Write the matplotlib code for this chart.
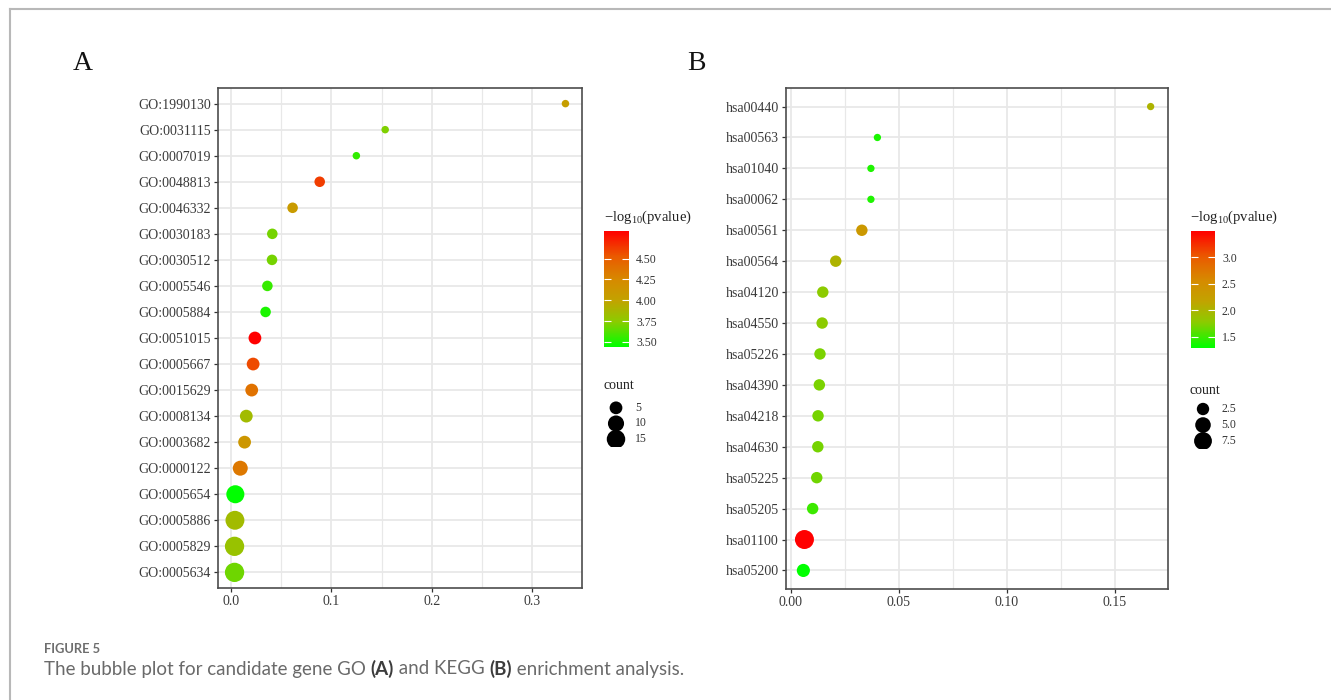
import numpy as np
import matplotlib
matplotlib.use("Agg")
import matplotlib.pyplot as plt
from matplotlib.colors import LinearSegmentedColormap, Normalize
from matplotlib.cm import ScalarMappable
from matplotlib.ticker import MultipleLocator
from matplotlib.lines import Line2D

# ---- data (top row first) ----
go_terms = ['GO:1990130', 'GO:0031115', 'GO:0007019', 'GO:0048813', 'GO:0046332',
            'GO:0030183', 'GO:0030512', 'GO:0005546', 'GO:0005884', 'GO:0051015',
            'GO:0005667', 'GO:0015629', 'GO:0008134', 'GO:0003682', 'GO:0000122',
            'GO:0005654', 'GO:0005886', 'GO:0005829', 'GO:0005634']
go_ratio = [0.333, 0.1535, 0.1248, 0.0883, 0.0613, 0.0411, 0.0408, 0.0362, 0.0344, 0.0238,
            0.0220, 0.0206, 0.0152, 0.0135, 0.0092, 0.0043, 0.0039, 0.0035, 0.0035]
go_count = [2, 2, 2, 3, 3, 3, 3, 3, 3, 5, 5, 5, 5, 5, 8, 14, 16, 17, 17]
go_logp = [4.05, 3.72, 3.55, 4.62, 4.08, 3.70, 3.70, 3.56, 3.50, 4.83,
           4.58, 4.38, 3.85, 4.12, 4.35, 3.44, 3.85, 3.80, 3.68]

kegg_terms = ['hsa00440', 'hsa00563', 'hsa01040', 'hsa00062', 'hsa00561', 'hsa00564',
              'hsa04120', 'hsa04550', 'hsa05226', 'hsa04390', 'hsa04218', 'hsa04630',
              'hsa05225', 'hsa05205', 'hsa01100', 'hsa05200']
kegg_ratio = [0.1667, 0.0401, 0.0371, 0.0371, 0.0329, 0.0208, 0.0148, 0.0145,
              0.0135, 0.0132, 0.0126, 0.0125, 0.0120, 0.0101, 0.0063, 0.0058]
kegg_count = [1, 1, 1, 1, 2, 2, 2, 2, 2, 2, 2, 2, 2, 2, 9, 3]
kegg_logp = [2.02, 1.38, 1.40, 1.40, 2.35, 2.02, 1.78, 1.78,
             1.72, 1.72, 1.70, 1.70, 1.68, 1.50, 3.50, 1.29]

go_cticks = [3.50, 3.75, 4.00, 4.25, 4.50]
go_clabels = ['3.50', '3.75', '4.00', '4.25', '4.50']
kegg_cticks = [1.5, 2.0, 2.5, 3.0]
kegg_clabels = ['1.5', '2.0', '2.5', '3.0']
go_size_legend = [5, 10, 15]
go_size_labels = ['5', '10', '15']
kegg_size_legend = [2.5, 5.0, 7.5]
kegg_size_labels = ['2.5', '5.0', '7.5']

W, H = 1331, 700
plt.rcParams['font.family'] = ['Liberation Serif', 'DejaVu Serif']
plt.rcParams['mathtext.fontset'] = 'custom'
plt.rcParams['mathtext.rm'] = 'Liberation Serif'

# green -> gold -> red, as seen in the reference colour bars
cmap = LinearSegmentedColormap.from_list('gr', [
    (0.00, '#00FF00'), (0.22, '#8CCB00'), (0.40, '#C2A300'),
    (0.58, '#D68A00'), (0.78, '#EA5A00'), (1.00, '#FF0000')])


def bubble_size(c, cmin, cmax, dmin, dmax):
    c = np.asarray(c, float)
    d = dmin + (dmax - dmin) * np.sqrt(np.clip((c - cmin) / (cmax - cmin), 0, 1))
    return (d * 72 / 100) ** 2


fig = plt.figure(figsize=(W / 100, H / 100), dpi=100)


def px(x0, y0, x1, y1):
    return [x0 / W, 1 - y1 / H, (x1 - x0) / W, (y1 - y0) / H]


def panel(ax_box, terms, ratio, count, logp, dmin, dmax, minor):
    ax = fig.add_axes(px(*ax_box))
    norm = Normalize(min(logp), max(logp))
    ax.scatter(ratio, terms, s=bubble_size(count, min(count), max(count), dmin, dmax),
               c=logp, cmap=cmap, norm=norm, edgecolors='none', zorder=3)
    n = len(terms)
    ax.set_ylim(n - 0.4, -0.6)
    span = max(ratio) - min(ratio)
    ax.set_xlim(min(ratio) - 0.05 * span, max(ratio) + 0.05 * span)
    ax.xaxis.set_major_locator(MultipleLocator(2 * minor))
    ax.xaxis.set_minor_locator(MultipleLocator(minor))
    ax.set_axisbelow(True)
    ax.grid(axis='y', which='major', color='#E8E8E8', lw=1.3)
    ax.grid(axis='x', which='major', color='#E8E8E8', lw=1.3)
    ax.grid(axis='x', which='minor', color='#E8E8E8', lw=0.9)
    for sp in ax.spines.values():
        sp.set_color('#4D4D4D')
        sp.set_linewidth(1.2)
    ax.tick_params(which='major', length=3, width=0.9, color='#333333',
                   labelsize=10, labelcolor='#3A3A3A', pad=2)
    ax.tick_params(which='minor', length=0)
    return ax, norm


def legends(norm, ticks, labels, cbar_box, title_xy, size_vals, size_labels, count,
            dmin, dmax, count_xy, dot_box, lab_dx):
    cax = fig.add_axes(px(*cbar_box))
    cb = fig.colorbar(ScalarMappable(norm=norm, cmap=cmap), cax=cax)
    cb.outline.set_visible(False)
    cb.set_ticks(ticks)
    cb.set_ticklabels(labels)
    cax.tick_params(axis='y', direction='in', length=5, width=0.8, color='white',
                    left=True, right=True, labelsize=8.5, labelcolor='#333333', pad=5)
    fig.text(title_xy[0] / W, 1 - title_xy[1] / H, r'$\mathregular{-log_{10}}$(pvalue)',
             fontsize=10.5, color='#222222', va='center', ha='left')
    fig.text(count_xy[0] / W, 1 - count_xy[1] / H, 'count', fontsize=10,
             color='#222222', va='center', ha='left')
    lax = fig.add_axes(px(*dot_box))
    lax.set_axis_off()
    rows = np.arange(len(size_vals))
    lax.scatter(np.zeros(len(rows)), rows,
                s=bubble_size(size_vals, min(count), max(count), dmin, dmax),
                color='black', edgecolors='none')
    for r, lab in zip(rows, size_labels):
        lax.text(lab_dx, r, lab, fontsize=8.5, color='#333333', va='center', ha='left')
    lax.set_xlim(-1, 5)
    lax.set_ylim(len(rows) - 0.5, -0.5)


axA, normA = panel((218, 88, 582, 588), go_terms, go_ratio, go_count, go_logp, 7.5, 19.3, 0.05)
axB, normB = panel((786, 88, 1168, 589), kegg_terms, kegg_ratio, kegg_count, kegg_logp, 7.3, 19, 0.025)
axA.xaxis.set_major_formatter(lambda v, p: f'{v:.1f}')
axB.xaxis.set_major_formatter(lambda v, p: f'{v:.2f}')

legends(normA, go_cticks, go_clabels, (604, 231, 629, 347), (604, 217), go_size_legend,
        go_size_labels, go_count, 7.5, 19.3, (604, 385), (606, 400, 666, 447), 1.9)
legends(normB, kegg_cticks, kegg_clabels, (1191, 231, 1215, 348), (1190, 217), kegg_size_legend,
        kegg_size_labels, kegg_count, 7.3, 19, (1190, 391), (1193, 401, 1253, 449), 1.8)

fig.text(83 / W, 1 - 63 / H, 'A', fontsize=20, ha='center', va='center', color='#111111')
fig.text(696 / W, 1 - 63 / H, 'B', fontsize=20, ha='center', va='center', color='#111111')

# page frame
fig.add_artist(Line2D([10 / W, 1], [1 - 9 / H, 1 - 9 / H], color='#B8B8B8', lw=1.5))
fig.add_artist(Line2D([10 / W, 10 / W], [0, 1 - 9 / H], color='#B8B8B8', lw=1.5))

# caption
fig.text(44 / W, 1 - 649 / H, 'FIGURE 5', fontsize=9.3, fontweight='bold',
         family='Lato', color='#6E6E6E', va='center')
renderer = fig.canvas.get_renderer()
parts = [('The bubble plot for candidate gene GO ', 'normal', '#6A6A6A'),
         ('(A)', 'bold', '#3C3C3C'),
         (' and KEGG ', 'normal', '#6A6A6A'),
         ('(B)', 'bold', '#3C3C3C'),
         (' enrichment analysis.', 'normal', '#6A6A6A')]
x = 44
for txt, wt, col in parts:
    t = fig.text(x / W, 1 - 669 / H, txt, fontsize=13.5, fontweight=wt, family='Lato',
                 color=col, va='center')
    x += t.get_window_extent(renderer).width

fig.savefig('out.png', dpi=100)
